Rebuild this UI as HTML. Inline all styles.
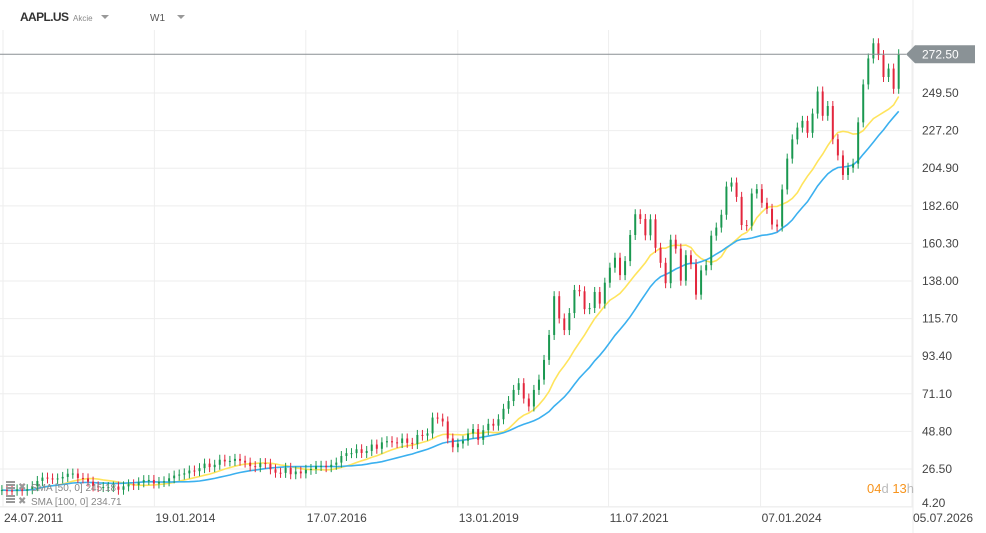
<!DOCTYPE html>
<html><head><meta charset="utf-8"><style>
body{margin:0;background:#fff;font-family:"Liberation Sans",sans-serif}
svg{display:block}
</style></head><body>
<svg id="chart" width="986" height="533" viewBox="0 0 986 533" font-family="Liberation Sans, sans-serif">
<g id="grid"></g>
<g id="sma"></g>
<g id="candles"></g>
<g id="axes"></g>
<g>
<text x="20" y="21" font-size="12" font-weight="bold" fill="#333" textLength="49">AAPL.US</text>
<text x="73" y="21" font-size="8" fill="#888">Akcie</text>
<path d="M101 15 L109 15 L105 19 Z" fill="#999"/>
<text x="150" y="21" font-size="10" fill="#555">W1</text>
<path d="M177 15 L185 15 L181 19 Z" fill="#999"/>
</g>
<g>
<g>
<rect x="6" y="481" width="9" height="2" fill="#999"/><rect x="6" y="484" width="9" height="2" fill="#999"/><rect x="6" y="487" width="9" height="2" fill="#999"/>
<text x="18" y="490" font-size="10" fill="#999">✖</text>
<text x="31" y="491" font-size="10" fill="#888">SMA [50, 0] 245.18</text></g>
<g>
<rect x="6" y="495" width="9" height="2" fill="#999"/><rect x="6" y="498" width="9" height="2" fill="#999"/><rect x="6" y="501" width="9" height="2" fill="#999"/>
<text x="18" y="504" font-size="10" fill="#999">✖</text>
<text x="31" y="505" font-size="10" fill="#888">SMA [100, 0] 234.71</text></g>
</g>
<text x="867" y="493" font-size="13"><tspan fill="#f7941d">04</tspan><tspan fill="#bbb">d </tspan><tspan fill="#f7941d">13</tspan><tspan fill="#bbb">h</tspan></text>
</svg>
<script>
const yTicks=[4.20,26.50,48.80,71.10,93.40,115.70,138.00,160.30,182.60,204.90,227.20,249.50];
const xTickLabels=["24.07.2011","19.01.2014","17.07.2016","13.01.2019","11.07.2021","07.01.2024","05.07.2026"];
const xTickYears=[2011.56,2014.05,2016.54,2019.04,2021.52,2024.02,2026.51];
const startYear=2011.5;
const closes=[
14,13.7,13.6,14.4,13.6,14.5,
16.3,19.4,21.4,20.9,20.6,20.9,21.8,23.7,23.8,21.2,20.9,19,
16.2,15.8,15.8,15.8,16.1,14.2,16.2,17.4,17,18.6,19.9,20,
17.9,18.8,19.2,21,22.6,23.2,23.9,25.6,25.2,27,29.7,27.6,
29,32,31,31.3,32.5,31.4,30.3,28.2,27.6,30,29.6,26.3,
24.3,24.2,27.2,23.4,25,23.9,26,26.5,28.3,28.4,27.6,29,
30.3,34.2,35.9,35.9,38.2,36,37.2,41,38.5,42.3,43,42.3,
41.9,44.6,42,41.3,46.7,46.3,47.6,57,56.4,54.7,44.6,39.4,
41.6,43.3,47.5,50.2,43.8,49.5,53.3,52.2,56,62.2,66.8,73.4,
77.4,68.3,63.6,73.4,79.5,91.2,106,129,115.8,108.9,119,132.7,
131.9,121.3,122,131.5,124.6,137,145.9,151.8,141.5,149.8,165.3,177.6,
174.8,165.1,174.6,157.7,148.8,136.7,162.5,157.2,138.2,153.3,148,129.9,
144.3,147.4,164.9,169.7,177.3,194,196.4,187.9,171.2,170.8,189.9,192.5,
184.4,180.8,171.5,170.3,192.3,210.6,222,229,233,225.9,237.3,250.4,
236,241.8,222.1,212.5,200.9,205.2,207.6,232.1,254.6,270,279,272,
259,264,252,272.5];
const lastPrice=272.50;
const smaPeriods=[12,23];
const smaColors=["#ffe45c","#3bb0ef"];

const NS="http://www.w3.org/2000/svg";
const plotL=0,plotR=913,plotB=507;
function yS(v){return 469-(v-26.5)*1.686;}
function xS(t){return 3+(t-2011.56)*60.8;}
function mk(tag,attrs,parent){const e=document.createElementNS(NS,tag);for(const k in attrs)e.setAttribute(k,attrs[k]);parent.appendChild(e);return e;}
const grid=document.getElementById('grid'),axes=document.getElementById('axes'),cg=document.getElementById('candles'),sg=document.getElementById('sma');
yTicks.forEach((v,i)=>{
 const l=mk('line',{x1:plotL,x2:plotR,y1:yS(v),y2:yS(v),stroke:'#eeeeee','stroke-width':1},grid);
 
 
 const ty=Math.min(yS(v),503)+4;
 const t=mk('text',{x:922,y:ty,'font-size':12,fill:'#444'},axes);t.textContent=v.toFixed(2);
 
 
});
mk('line',{x1:plotL,x2:plotR,y1:plotB,y2:plotB,stroke:'#eeeeee'},grid);
mk('line',{x1:plotR,x2:plotR,y1:0,y2:533,stroke:'#eeeeee'},grid);
xTickYears.forEach((yr,i)=>{
 const x=xS(yr);
 const l=mk('line',{x1:x,x2:x,y1:30,y2:plotB,stroke:'#eeeeee'},grid);
 
 
 const t=mk('text',{x:x+1,y:522,'font-size':12,fill:'#444'},axes);t.textContent=xTickLabels[i];
 
 
});
function tOf(i){return startYear+i/12+1/24;}
closes.forEach((c,i)=>{
 const o=i?closes[i-1]:c;
 const x=xS(tOf(i));
 const up=c>=o,col=up?'#1a9850':'#e3263d';
 const y1=yS(Math.max(o,c)),y2=yS(Math.min(o,c));
 const w=mk('line',{x1:x,x2:x,y1:y1-5,y2:y2+5,stroke:col,'stroke-width':1},cg);
 
 
 const r=mk('rect',{x:x-1,y:y1,width:2,height:Math.max(1,y2-y1),fill:col},cg);
 
 
});
smaPeriods.forEach((p,k)=>{
 let d='';
 for(let i=0;i<closes.length;i++){
  const s=closes.slice(Math.max(0,i-p+1),i+1);
  const m=s.reduce((a,b)=>a+b,0)/s.length;
  d+=(i?'L':'M')+xS(tOf(i)).toFixed(1)+' '+yS(m).toFixed(1);
 }
 const pth=mk('path',{d:d,fill:'none',stroke:smaColors[k],'stroke-width':1.6},sg);
 
 
});
const py=yS(lastPrice);
const pl=mk('line',{x1:0,x2:906,y1:py,y2:py,stroke:'#8a8f93','stroke-width':1},axes);


const pb=mk('path',{d:`M906 ${py} L915 ${py-9} L975 ${py-9} L975 ${py+9} L915 ${py+9} Z`,fill:'#8a9296'},axes);


const pt=mk('text',{x:922,y:py+4.5,'font-size':12,fill:'#fff'},axes);pt.textContent=lastPrice.toFixed(2);


</script>
</body></html>
